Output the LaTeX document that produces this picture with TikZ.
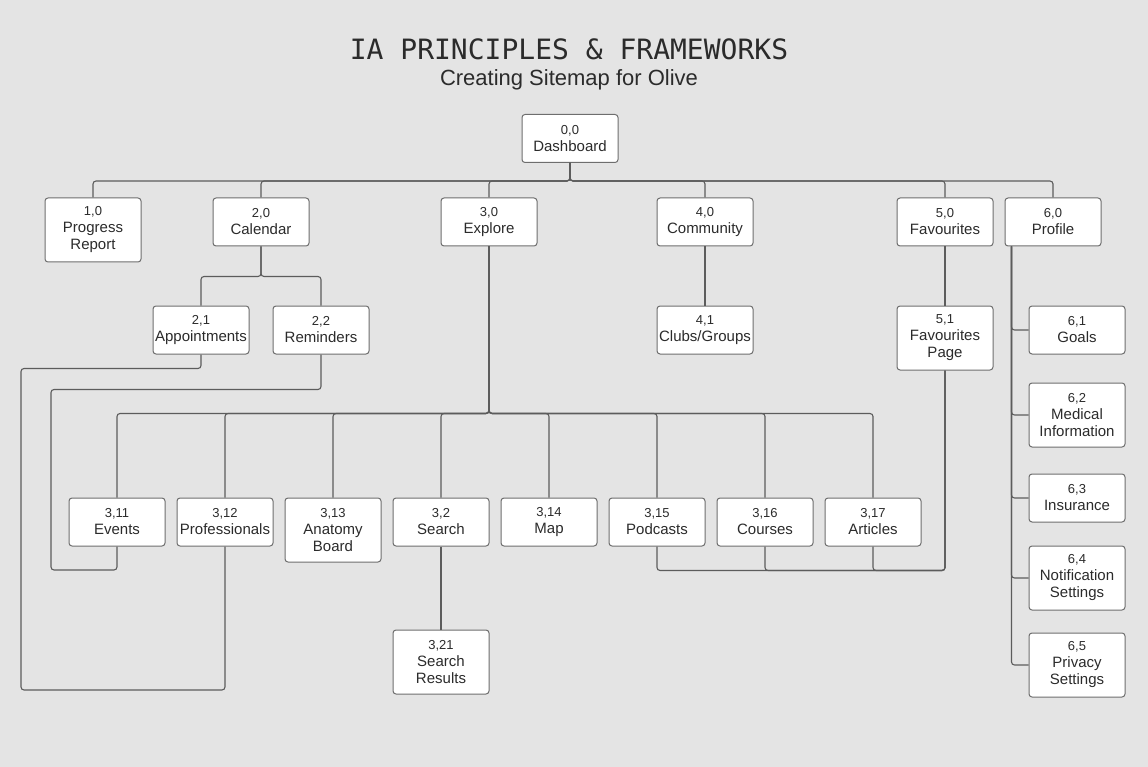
\documentclass[tikz,border=0pt]{standalone}
\usepackage{fontspec}
\setmainfont{Liberation Sans}
\newfontfamily\titlefont{DejaVu Sans Mono}
\definecolor{bg}{HTML}{E4E4E4}
\definecolor{boxline}{HTML}{6E6E6E}
\definecolor{conn}{HTML}{5C5C5C}
\definecolor{ink}{HTML}{2B2B2B}
\newcommand\nid[1]{{\fontsize{13}{14}\selectfont #1}}
\begin{document}
\begin{tikzpicture}[x=1pt,y=-1pt,
  box/.style={draw=boxline, fill=white, rounded corners=3pt, line width=1pt,
    minimum width=96pt, minimum height=48pt, inner sep=0pt, align=center,
    text=ink, font=\fontsize{15}{17}\selectfont},
  tall/.style={box, minimum height=64pt},
  link/.style={draw=conn, line width=1.1pt, rounded corners=3pt}]
\useasboundingbox (0,0) rectangle (1148,767);
\fill[bg] (0,0) rectangle (1148,767);

% titles
\node[font=\titlefont\fontsize{28}{30}\selectfont, text=ink] (title) at (569,49) {IA PRINCIPLES \& FRAMEWORKS};
\node[font=\fontsize{22}{24}\selectfont, text=ink] (sub) at (569,80) {Creating Sitemap for Olive};

% level 0/1
\node[box] (dash) at (570,138.5) {\nid{0,0}\\Dashboard};
\node[tall] (prog) at (93,230) {\nid{1,0}\\Progress\\Report};
\node[box] (cal) at (261,222) {\nid{2,0}\\Calendar};
\node[box] (expl) at (489,222) {\nid{3,0}\\Explore};
\node[box] (comm) at (705,222) {\nid{4,0}\\Community};
\node[box] (fav) at (945,222) {\nid{5,0}\\Favourites};
\node[box] (prof) at (1053,222) {\nid{6,0}\\Profile};

% level 2
\node[box] (app) at (201,330) {\nid{2,1}\\Appointments};
\node[box] (rem) at (321,330) {\nid{2,2}\\Reminders};
\node[box] (club) at (705,330) {\nid{4,1}\\Clubs/Groups};
\node[tall] (favp) at (945,338) {\nid{5,1}\\Favourites\\Page};
\node[box] (goals) at (1077,330) {\nid{6,1}\\Goals};
\node[tall] (med) at (1077,415) {\nid{6,2}\\Medical\\Information};
\node[box] (ins) at (1077,498) {\nid{6,3}\\Insurance};
\node[tall] (notif) at (1077,578) {\nid{6,4}\\Notification\\Settings};
\node[tall] (priv) at (1077,665) {\nid{6,5}\\Privacy\\Settings};

% explore children
\node[box] (ev) at (117,522) {\nid{3,11}\\Events};
\node[box] (pro) at (225,522) {\nid{3,12}\\Professionals};
\node[tall] (anat) at (333,530) {\nid{3,13}\\Anatomy\\Board};
\node[box] (search) at (441,522) {\nid{3,2}\\Search};
\node[box] (map) at (549,522) {\nid{3,14}\\Map};
\node[box] (pod) at (657,522) {\nid{3,15}\\Podcasts};
\node[box] (cour) at (765,522) {\nid{3,16}\\Courses};
\node[box] (art) at (873,522) {\nid{3,17}\\Articles};
\node[tall] (res) at (441,662) {\nid{3,21}\\Search\\Results};

% connectors: dashboard bus
\foreach \c in {prog,cal,expl,comm,fav,prof}
  \draw[link] (dash.south) -- ++(0,18) -| (\c.north);
% calendar
\foreach \c in {app,rem}
  \draw[link] (cal.south) -- ++(0,30) -| (\c.north);
% explore bus
\foreach \c in {ev,pro,anat,search,map,pod,cour,art}
  \draw[link] (expl.south) -- ++(0,167) -| (\c.north);
\draw[link] (comm.south) -- (club.north);
\draw[link] (fav.south) -- (favp.north);
\draw[link] (search.south) -- (res.north);
% profile
\foreach \c in {goals,med,ins,notif,priv}
  \draw[link] ([xshift=7pt]prof.south west) |- (\c.west);
% cross links
\draw[link] (app.south) -- ++(0,14) -| (21,690) -| (pro.south);
\draw[link] (rem.south) -- ++(0,35) -| (51,570) -| (ev.south);
\foreach \c in {pod,cour,art}
  \draw[link] (\c.south) -- ++(0,24) -| (favp.south);
\end{tikzpicture}
\end{document}
